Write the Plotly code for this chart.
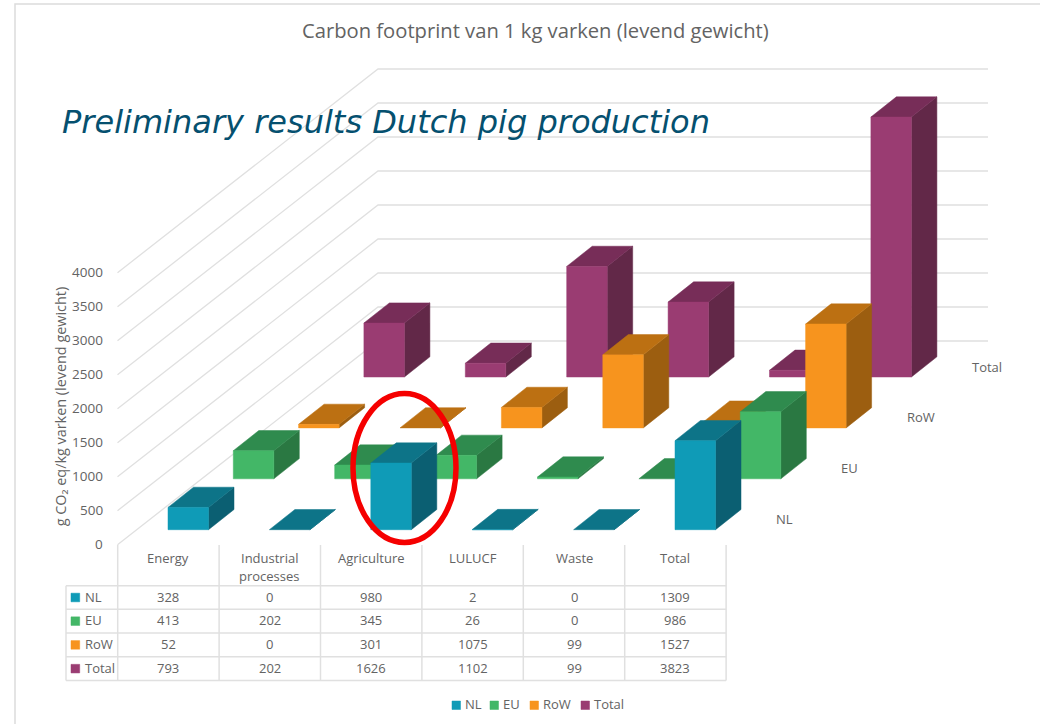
import plotly.graph_objects as go

# ---------- data ----------
categories = ["Energy", "Industrial<br>processes", "Agriculture", "LULUCF", "Waste", "Total"]
series = ["NL", "EU", "RoW", "Total"]
nl = [328, 0, 980, 2, 0, 1309]
eu = [413, 202, 345, 26, 0, 986]
row = [52, 0, 301, 1075, 99, 1527]
total = [793, 202, 1626, 1102, 99, 3823]
y_ticks = [0, 500, 1000, 1500, 2000, 2500, 3000, 3500, 4000]
values = [nl, eu, row, total]

# ---------- style ----------
FRONT = ["#0F9BB7", "#43B767", "#F7941E", "#9A3C72"]
TOP = ["#0D7488", "#2F8B4E", "#BC7012", "#772D58"]
SIDE = ["#0B5F72", "#2A7842", "#9C5E10", "#622848"]
GRID = "#E0E0E0"
TXT = "#636363"
FONT = "Open Sans"

# ---------- oblique projection (pixel canvas) ----------
PX_PER_UNIT = 34.0 / 500
CAT_STEP = 101.4
ROW_DX, ROW_DY = 65.3, -50.9
X0, Y0 = 168.0, 529.7
BAR_W, DEPTH_X, DEPTH_Y = 40.5, 25.5, -20.2


def bar_polys(c, s, v):
    x = X0 + c * CAT_STEP + s * ROW_DX
    y = Y0 + s * ROW_DY
    t = y - v * PX_PER_UNIT
    front = [(x, y), (x + BAR_W, y), (x + BAR_W, t), (x, t)]
    top = [(x, t), (x + BAR_W, t), (x + BAR_W + DEPTH_X, t + DEPTH_Y), (x + DEPTH_X, t + DEPTH_Y)]
    side = [(x + BAR_W, y), (x + BAR_W + DEPTH_X, y + DEPTH_Y), (x + BAR_W + DEPTH_X, t + DEPTH_Y), (x + BAR_W, t)]
    return front, top, side


fig = go.Figure()


def poly(pts, color):
    xs = [p[0] for p in pts] + [pts[0][0]]
    ys = [p[1] for p in pts] + [pts[0][1]]
    fig.add_trace(go.Scatter(x=xs, y=ys, mode="lines", fill="toself", fillcolor=color,
                             line=dict(color=color, width=0.5), hoverinfo="skip", showlegend=False))


def line(xs, ys, color=GRID, width=1.3):
    fig.add_trace(go.Scatter(x=xs, y=ys, mode="lines", line=dict(color=color, width=width),
                             hoverinfo="skip", showlegend=False))


def text(x, y, s, size=13, color=TXT, anchor="center", family=FONT, style="normal", **kw):
    fig.add_annotation(x=x, y=y - 0.7, xref="x", yref="y", text=s, showarrow=False, xanchor=anchor,
                       yanchor="middle", font=dict(family=family, size=size, color=color, style=style), **kw)


# frame
line([15, 15, 1040], [724, 4, 4], "#DCDCDC", 1.5)

# walls
WALL_L_X, WALL_R_X, WALL_END_X = 117.5, 378.0, 988.0
WALL_L_Y0, WALL_R_Y0 = 544.7, 341.0
for t in y_ticks:
    d = t * PX_PER_UNIT
    line([WALL_L_X, WALL_R_X, WALL_END_X], [WALL_L_Y0 - d, WALL_R_Y0 - d, WALL_R_Y0 - d])
    text(105, WALL_L_Y0 - d, str(t), size=13.5, anchor="right")

# bars, back row first
for s in range(len(series) - 1, -1, -1):
    for c in range(len(categories)):
        front, top, side = bar_polys(c, s, values[s][c])
        poly(side, SIDE[s])
        poly(top, TOP[s])
        if values[s][c] > 0:
            poly(front, FRONT[s])

# depth axis labels
for lab, (x, y) in zip(series, [(784, 520), (849, 469), (921, 418), (987, 368)]):
    text(x, y, lab)

# data table
COL_X = [117.7 + i * 101.4 for i in range(7)]
ROW_Y = [585.7, 609.3, 633.0, 656.8, 680.5]
TABLE_L, HEAD_T = 66.0, 545.0
for i, x in enumerate(COL_X):
    line([x, x], [HEAD_T, ROW_Y[-1]], GRID, 1.5)
line([TABLE_L, TABLE_L], [ROW_Y[0], ROW_Y[-1]], GRID, 1.5)
for y in ROW_Y:
    line([TABLE_L, COL_X[-1]], [y, y], GRID, 1.5)
for c, cat in enumerate(categories):
    for k, part in enumerate(cat.split("<br>")):
        text(COL_X[c] + 50.7, 559 + 18 * k, part)
for s, name in enumerate(series):
    yc = (ROW_Y[s] + ROW_Y[s + 1]) / 2
    poly([(71, yc - 4.3), (79.7, yc - 4.3), (79.7, yc + 4.3), (71, yc + 4.3)], FRONT[s])
    text(83, yc, name, anchor="left")
    for c in range(len(categories)):
        text(COL_X[c] + 50.7, yc, str(values[s][c]))

# bottom legend
for s, (name, kx) in enumerate(zip(series, [452, 490, 530, 581])):
    poly([(kx, 701), (kx + 8.5, 701), (kx + 8.5, 709.5), (kx, 709.5)], FRONT[s])
    text(kx + 11, 705, name, anchor="left")

# titles
text(535, 31, "Carbon footprint van 1 kg varken (levend gewicht)", size=20.2)
text(60, 408, "g CO\u2082 eq/kg varken (levend gewicht)", size=14.4, textangle=-90)
text(60, 123, "Preliminary results Dutch pig production", size=32, color="#05506F",
     anchor="left", family="DejaVu Sans", style="italic")

# highlight ellipse
fig.add_shape(type="circle", xref="x", yref="y", x0=353, x1=456, y0=393.5, y1=542.5,
              line=dict(color="#F50000", width=5.5), fillcolor="rgba(0,0,0,0)", layer="above")

fig.update_layout(
    width=1040, height=724, margin=dict(l=0, r=0, t=0, b=0),
    paper_bgcolor="white", plot_bgcolor="white", showlegend=False,
    xaxis=dict(range=[0, 1040], visible=False, fixedrange=True),
    yaxis=dict(range=[724, 0], visible=False, fixedrange=True),
)
fig.write_html("out.html", config={"displayModeBar": False},
               post_script="document.body.style.margin='0';document.body.style.overflow='hidden';")
